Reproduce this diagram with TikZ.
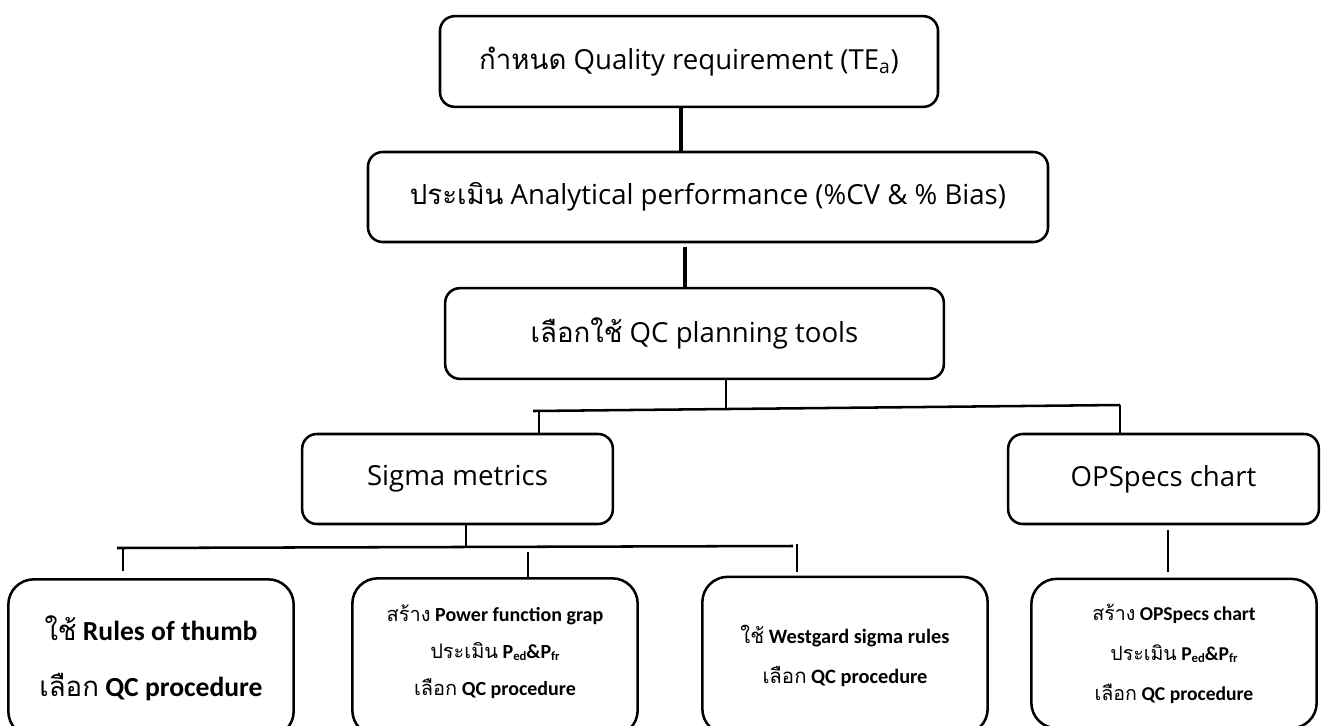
\documentclass[tikz,border=0pt]{standalone}
\usepackage{fontspec}
\setmainfont{Open Sans}
\newfontfamily\thaifont[Script=Thai]{Loma}
\newfontfamily\calfont{Carlito}
\usepackage{tikz}
\usetikzlibrary{positioning}

\newcommand{\lowtxt}[1]{\raisebox{-0.2ex}{\fontsize{9.5}{10}\selectfont #1}}

\tikzset{
    box/.style={draw, line width=1.9pt, rounded corners=11pt, align=center,
        inner sep=0pt, font=\fontsize{20.7}{24}\selectfont},
    leaf/.style={draw, line width=1.9pt, rounded corners=19pt, align=center,
        inner sep=0pt, minimum width=214pt, minimum height=118pt},
    link/.style={line width=1.9pt},
    heavy/.style={line width=3pt},
}

\begin{document}
\begin{tikzpicture}[x=0.75pt, y=-0.75pt]
    \useasboundingbox (0,0) rectangle (1327,725);
    \clip (0,0) rectangle (1327,725);

    % Upper chain
    \node[box, minimum width=373.5pt, minimum height=68pt] (quality) at (689,61.5)
      {{\thaifont กำหนด} Quality requirement (TE\textsubscript{a})};
    \node[box, minimum width=510pt, minimum height=67.5pt] (perf) at (708,197)
      {{\thaifont ประเมิน} Analytical performance (\%CV \& \% Bias)};
    \node[box, minimum width=374pt, minimum height=68pt] (tools) at (694.5,333.5)
      {{\thaifont เลือกใช้} QC planning tools};

    % Tools
    \node[box, minimum width=233pt, minimum height=67.5pt] (sigma) at (457.5,479) {Sigma metrics};
    \node[box, minimum width=233pt, minimum height=67.5pt] (opspecs) at (1163.5,479) {OPSpecs chart};

    % Procedures
    \node[leaf, font=\calfont\bfseries\fontsize{20.7}{42}\selectfont] (thumb) at (151,658)
      {{\thaifont\mdseries ใช้} Rules of thumb\\{\thaifont\mdseries เลือก} QC procedure};
    \node[leaf, font=\calfont\bfseries\fontsize{15}{28}\selectfont] (power) at (495,657)
      {{\thaifont\mdseries สร้าง} Power function grap\\
       {\thaifont\mdseries ประเมิน} P\lowtxt{ed}\&P\lowtxt{fr}\\
       {\thaifont\mdseries เลือก} QC procedure\\[-17.5pt]\mbox{}};
    \node[leaf, font=\calfont\bfseries\fontsize{15.3}{30}\selectfont] (westgard) at (845,655.5)
      {{\thaifont\mdseries ใช้} Westgard sigma rules\\{\thaifont\mdseries เลือก} QC procedure};
    \node[leaf, minimum height=112pt, font=\calfont\bfseries\fontsize{14.7}{30}\selectfont] (opsproc) at (1174,653.5)
      {{\thaifont\mdseries สร้าง} OPSpecs chart\\
       {\thaifont\mdseries ประเมิน} P\lowtxt{ed}\&P\lowtxt{fr}\\
       {\thaifont\mdseries เลือก} QC procedure};

    % Joints
    \coordinate (k1) at (681,130);
    \coordinate (k2) at (685,265);
    \coordinate (k3) at (726,408);
    \coordinate (bl) at (533,411);
    \coordinate (br) at (1120,405);
    \coordinate (ds) at (539,411);
    \coordinate (ks) at (466,547);
    \coordinate (cl) at (117,548);
    \coordinate (cr) at (793,546);
    \coordinate (dt) at (123,548);
    \coordinate (dp) at (528,552);
    \coordinate (dw) at (797,544);
    \coordinate (ko) at (1168,530);

    % Links
    \draw[heavy] (quality.south -| k1) -- (perf.north -| k1);
    \draw[heavy, shorten <=3pt] (perf.south -| k2) -- (tools.north -| k2);
    \draw[link] (tools.south -| k3) -- (k3);
    \draw[link] (bl) -- (br);
    \draw[link] (ds) -- (sigma.north -| ds);
    \draw[link] (br) -- (opspecs.north -| br);
    \draw[link] (sigma.south -| ks) -- (ks);
    \draw[link] (cl) -- (cr);
    \draw[link, shorten >=5pt] (dt) -- (thumb.north -| dt);
    \draw[link] (dp) -- (power.north -| dp);
    \draw[link, shorten >=3pt] (dw) -- (westgard.north -| dw);
    \draw[link, shorten >=4pt] (ko) -- (opsproc.north -| ko);
\end{tikzpicture}
\end{document}
